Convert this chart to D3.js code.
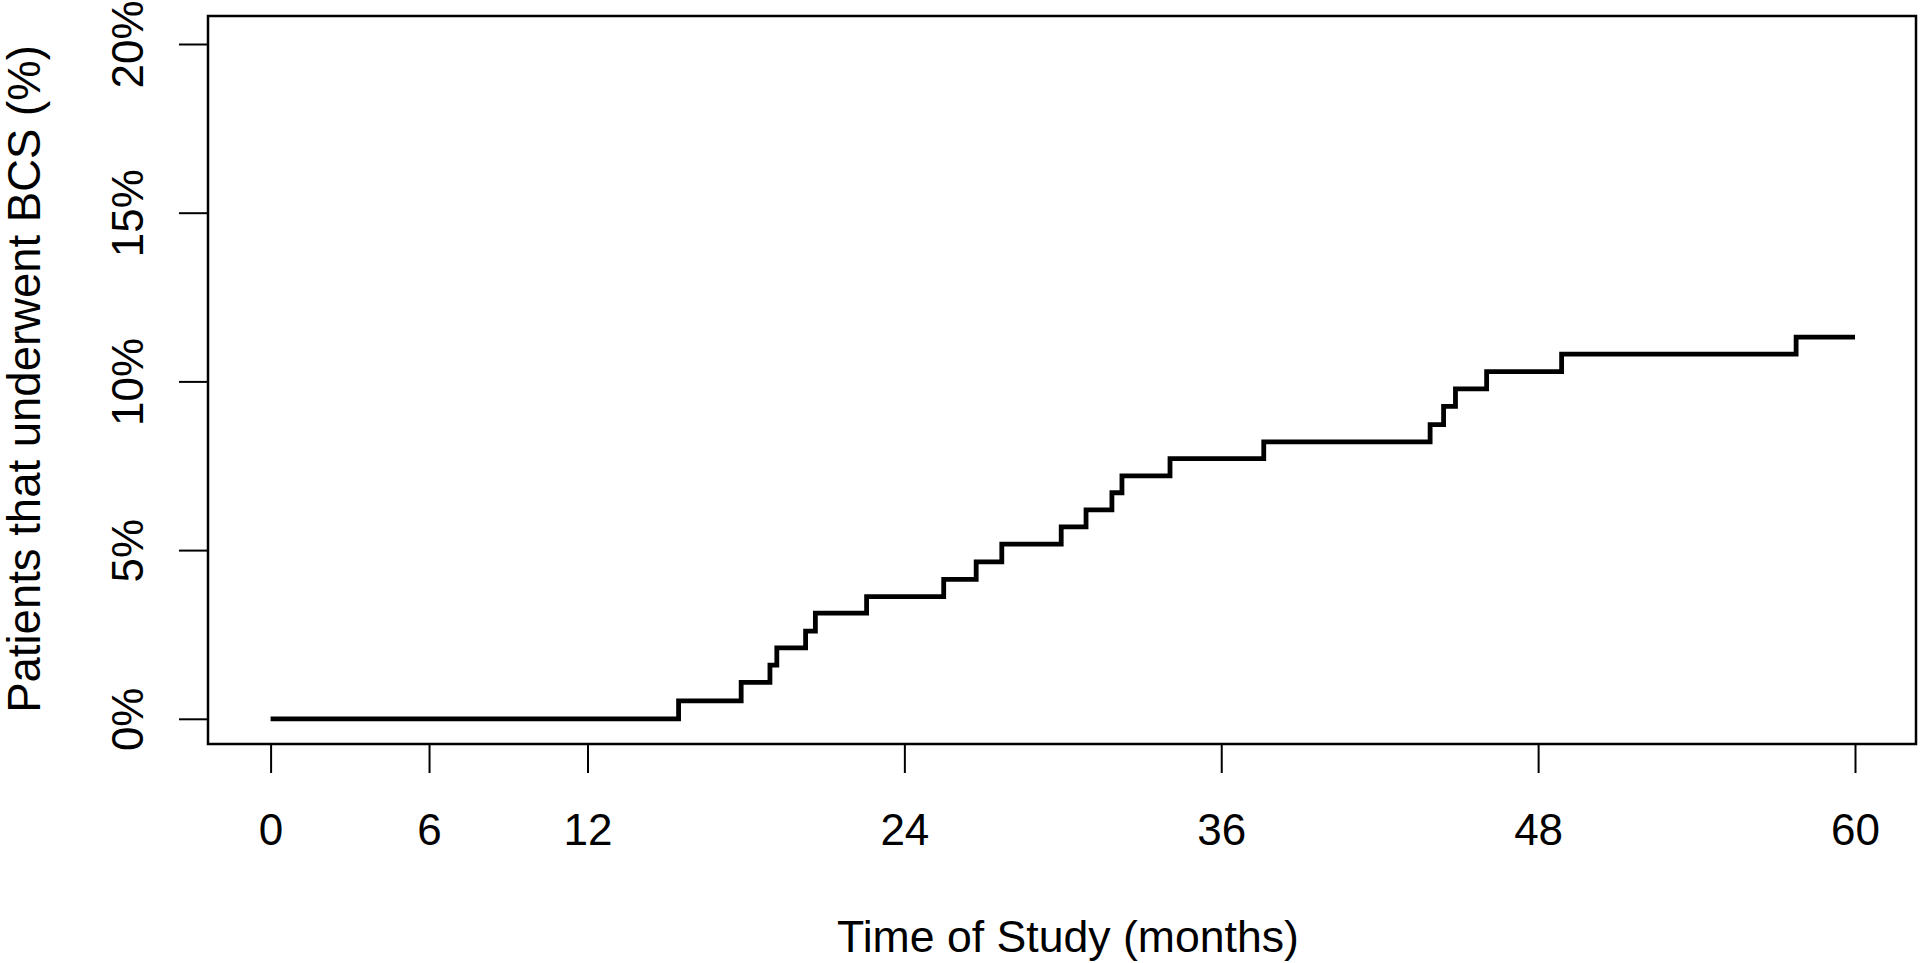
<!DOCTYPE html>
<html>
<head>
<meta charset="utf-8">
<script src="https://cdn.jsdelivr.net/npm/d3@7"></script>
<style>
  html, body { margin: 0; padding: 0; background: #fff; }
  svg { display: block; }
  text { font-family: "Liberation Sans", Arial, sans-serif; fill: #000; }
</style>
</head>
<body>
<svg id="chart" width="1920" height="963"></svg>
<script>
// Event times (months) where cumulative incidence steps up, and level after step (%)
const stepTimes  = [0, 15.45, 17.82, 18.91, 19.17, 20.26, 20.63, 22.57, 25.49, 26.72, 27.69, 29.94, 30.88, 31.86, 32.24, 34.06, 37.61, 43.91, 44.42, 44.87, 46.05, 48.89, 57.77];
const stepLevels = [0, 0.53, 1.08, 1.59, 2.10, 2.60, 3.13, 3.62, 4.13, 4.65, 5.18, 5.69, 6.19, 6.70, 7.20, 7.71, 8.21, 8.72, 9.26, 9.78, 10.29, 10.81, 11.31];
const endTime = 60;
const xTicks = [0, 6, 12, 24, 36, 48, 60];
const yTicks = [0, 5, 10, 15, 20];
const xTitle = "Time of Study (months)";
const yTitle = "Patients that underwent BCS (%)";

const svg = d3.select("#chart");
const box = { left: 208, right: 1916, top: 16, bottom: 744 };

const x = d3.scaleLinear().domain([0, 60]).range([270.6, 1855]);
const y = d3.scaleLinear().domain([0, 20]).range([718.8, 44]);

// Plot frame
svg.append("rect")
  .attr("x", box.left).attr("y", box.top)
  .attr("width", box.right - box.left).attr("height", box.bottom - box.top)
  .attr("fill", "none").attr("stroke", "#000").attr("stroke-width", 2.5);

// X axis
const xAxis = d3.axisBottom(x).tickValues(xTicks).tickSize(29).tickPadding(0).tickFormat(d => d);
const gx = svg.append("g").attr("transform", `translate(0,${box.bottom})`).call(xAxis);
gx.select(".domain").remove();
gx.selectAll(".tick line").attr("stroke", "#000").attr("stroke-width", 2);
gx.selectAll(".tick text")
  .attr("y", 101).attr("dy", null)
  .style("font-size", "44px").style("font-family", "'Liberation Sans', Arial, sans-serif").attr("fill", "#000");

// Y axis
const yAxis = d3.axisLeft(y).tickValues(yTicks).tickSize(29).tickFormat(d => d + "%");
const gy = svg.append("g").attr("transform", `translate(${box.left},0)`).call(yAxis);
gy.select(".domain").remove();
gy.selectAll(".tick line").attr("stroke", "#000").attr("stroke-width", 2);
gy.selectAll(".tick text")
  .attr("x", null).attr("dy", null)
  .attr("text-anchor", "middle")
  .attr("transform", "translate(-65,0) rotate(-90)")
  .style("font-size", "44px").style("font-family", "'Liberation Sans', Arial, sans-serif").attr("fill", "#000");

// Step line
const pts = stepTimes.map((t, i) => [t, stepLevels[i]]);
pts.push([endTime, stepLevels[stepLevels.length - 1]]);
const line = d3.line().x(d => x(d[0])).y(d => y(d[1])).curve(d3.curveStepAfter);
svg.append("path")
  .datum(pts)
  .attr("d", line)
  .attr("fill", "none")
  .attr("stroke", "#000")
  .attr("stroke-width", 4.8)
  .attr("stroke-linejoin", "miter")
  .attr("stroke-linecap", "butt");

// Axis titles
svg.append("text")
  .attr("x", 1068).attr("y", 952)
  .attr("text-anchor", "middle")
  .style("font-size", "44.6px")
  .text(xTitle);

svg.append("text")
  .attr("transform", `translate(40,379) rotate(-90)`)
  .attr("text-anchor", "middle")
  .style("font-size", "45.5px")
  .text(yTitle);
</script>
</body>
</html>
